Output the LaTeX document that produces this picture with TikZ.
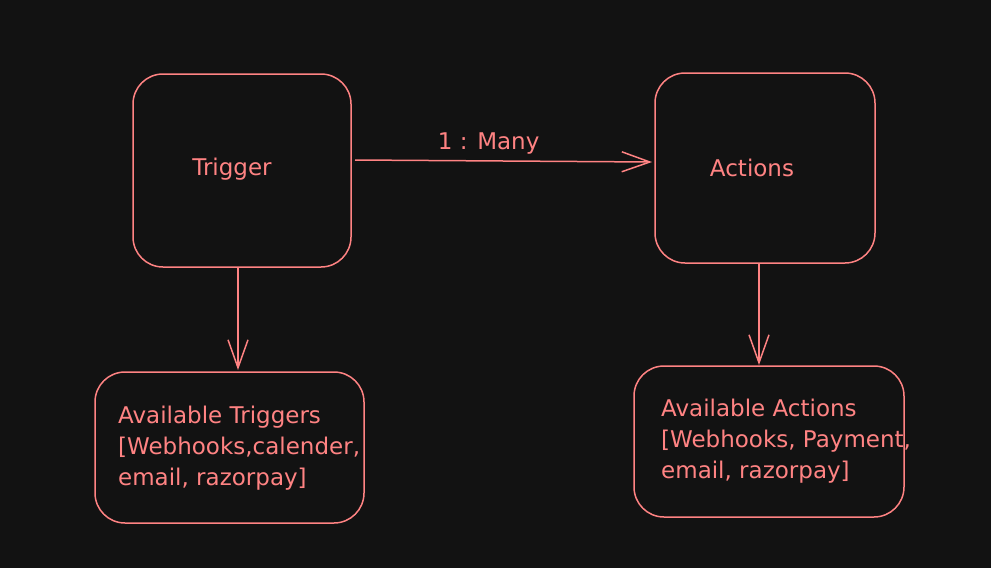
\documentclass[tikz,border=0pt]{standalone}
\usepackage{fontspec}
\setmainfont{DejaVu Sans}
\usetikzlibrary{arrows.meta}
\definecolor{bg}{HTML}{121212}
\definecolor{ink}{HTML}{FF8383}
\begin{document}
\begin{tikzpicture}[x=1pt,y=-1pt,
  box/.style={draw=ink, line width=1.5pt, rounded corners=30pt},
  lbl/.style={text=ink, font=\fontsize{23}{31}\selectfont, inner sep=0pt},
  conn/.style={draw=ink, line width=1.5pt, -{Straight Barb[length=28pt,width=20pt,line width=1.5pt]}}]
\fill[bg] (0,0) rectangle (991,568);
\useasboundingbox (0,0) rectangle (991,568);
% boxes
\draw[box] (133,74) rectangle (351,267);
\node[lbl] (trig) at (232,169) {Trigger};
\draw[box] (655,73) rectangle (875,263);
\node[lbl] (act) at (752,168) {Actions};
\draw[box] (95,372) rectangle (364,523);
\draw[box] (634,366) rectangle (904,517);
\node[lbl, anchor=north west, align=left] (avt) at (118,406) {Available Triggers\\{[}Webhooks,calender,\\email, razorpay{]}};
\node[lbl, anchor=north west, align=left] (ava) at (661,399) {Available Actions\\{[}Webhooks, Payment,\\email, razorpay{]}};
% connector endpoints
\coordinate (t1) at (355,160);
\coordinate (a1) at (652,162);
\coordinate (t2) at (238,267);
\coordinate (t3) at (238,370);
\coordinate (a2) at (759,263);
\coordinate (a3) at (759,365);
\draw[conn] (t1) -- node[lbl, above=6pt, pos=0.45] {1 : Many} (a1);
\draw[conn] (t2) -- (t3);
\draw[conn] (a2) -- (a3);
\end{tikzpicture}
\end{document}
